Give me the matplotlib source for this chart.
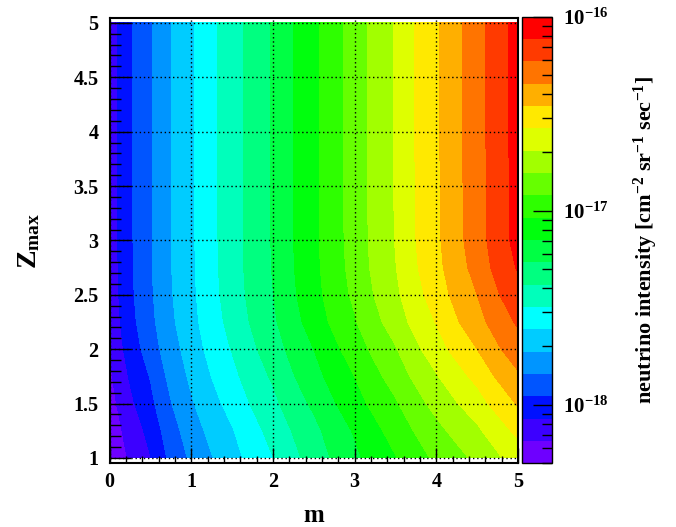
import numpy as np
import matplotlib
matplotlib.use("Agg")
import matplotlib.pyplot as plt
from matplotlib.colors import ListedColormap, LogNorm
from matplotlib.ticker import MultipleLocator, FixedLocator, FixedFormatter, NullFormatter

plt.rcParams['font.family'] = 'Liberation Serif'
plt.rcParams['font.weight'] = 'bold'
plt.rcParams['axes.labelweight'] = 'bold'
plt.rcParams['mathtext.fontset'] = 'custom'
plt.rcParams['mathtext.rm'] = 'Liberation Serif:bold'
plt.rcParams['mathtext.it'] = 'Liberation Serif:bold'
plt.rcParams['mathtext.bf'] = 'Liberation Serif:bold'
plt.rcParams['mathtext.default'] = 'rm'

# source evolution index m and maximum redshift Z_max
m_vals = [0.0, 0.5, 1.0, 1.5, 2.0, 2.5, 3.0, 3.5, 4.0, 4.5, 5.0]
zmax_vals = [1.0, 1.25, 1.5, 1.75, 2.0, 2.25, 2.5, 2.75, 3.0, 4.0, 5.0]

# log10 of neutrino intensity, one row per Z_max
log_intensity = [
    [-18.295, -18.075, -17.822, -17.658, -17.498, -17.336, -17.176, -17.041, -16.900, -16.783, -16.640],
    [-18.270, -18.040, -17.784, -17.620, -17.460, -17.300, -17.140, -16.995, -16.840, -16.713, -16.550],
    [-18.240, -17.990, -17.740, -17.573, -17.412, -17.245, -17.085, -16.935, -16.770, -16.630, -16.450],
    [-18.210, -17.950, -17.705, -17.530, -17.365, -17.195, -17.035, -16.875, -16.700, -16.545, -16.365],
    [-18.190, -17.905, -17.677, -17.490, -17.325, -17.150, -16.985, -16.815, -16.630, -16.460, -16.280],
    [-18.170, -17.875, -17.652, -17.462, -17.288, -17.105, -16.932, -16.755, -16.570, -16.390, -16.215],
    [-18.158, -17.861, -17.640, -17.447, -17.268, -17.082, -16.900, -16.717, -16.526, -16.345, -16.155],
    [-18.152, -17.855, -17.634, -17.440, -17.260, -17.071, -16.885, -16.695, -16.499, -16.308, -16.105],
    [-18.150, -17.853, -17.632, -17.438, -17.258, -17.067, -16.879, -16.686, -16.488, -16.290, -16.080],
    [-18.150, -17.853, -17.632, -17.438, -17.258, -17.066, -16.876, -16.681, -16.480, -16.283, -16.076],
    [-18.150, -17.853, -17.632, -17.438, -17.258, -17.066, -16.876, -16.681, -16.480, -16.283, -16.076],
]

zmin_color, zmax_color = 5e-19, 1e-16
n_levels = 20
palette = ['#6e00ff', '#3c00ff', '#0011ff', '#0055ff', '#0095ff', '#00ccff',
           '#00ffff', '#00ffbb', '#00ff80', '#00ff44', '#00ff0d', '#2eff00',
           '#66ff00', '#a2ff00', '#deff00', '#ffe900', '#ffaf00', '#ff7400',
           '#ff3a00', '#ff0000']

intensity = 10 ** np.array(log_intensity)
levels = np.logspace(np.log10(zmin_color), np.log10(zmax_color), n_levels + 1)
cmap = ListedColormap(palette)
norm = LogNorm(vmin=zmin_color, vmax=zmax_color)

fig = plt.figure(figsize=(6.76, 5.27), dpi=100)
ax = fig.add_axes([0.162, 0.1209, 0.6043, 0.8444])
cs = ax.contourf(m_vals, zmax_vals, intensity, levels=levels, cmap=cmap, norm=norm)

ax.set_xlim(0, 5)
ax.set_ylim(0.951, 5.042)
ax.xaxis.set_major_locator(MultipleLocator(1))
ax.xaxis.set_minor_locator(MultipleLocator(0.2))
ax.yaxis.set_major_locator(FixedLocator([1, 1.5, 2, 2.5, 3, 3.5, 4, 4.5, 5]))
ax.yaxis.set_minor_locator(MultipleLocator(0.1))
ax.set_yticklabels(['1', '1.5', '2', '2.5', '3', '3.5', '4', '4.5', '5'])
ax.tick_params(axis='both', which='both', direction='in', top=False, right=False, width=1)
ax.tick_params(axis='x', which='major', length=11, pad=6, labelsize=14.5)
ax.tick_params(axis='x', which='minor', length=5)
ax.tick_params(axis='y', which='major', length=15, pad=8, labelsize=14.5)
ax.tick_params(axis='y', which='minor', length=8)
ax.grid(True, which='major', color='black', linestyle=(0, (1, 2)), linewidth=1)
ax.set_axisbelow(False)
for s in ax.spines.values():
    s.set_linewidth(1.5)

ax.set_xlabel('m', fontsize=18, fontweight='bold', labelpad=9)
ax.set_ylabel(r'Z$_{max}$', fontsize=20, fontweight='bold', labelpad=22)

cax = fig.add_axes([0.7717, 0.1209, 0.0453, 0.8474])
cb = fig.colorbar(cs, cax=cax)
cb.outline.set_linewidth(1)
cax.yaxis.set_major_locator(FixedLocator([1e-18, 1e-17, 1e-16]))
cax.yaxis.set_major_formatter(FixedFormatter([r'10$^{-18}$', r'10$^{-17}$', r'10$^{-16}$']))
minor = [k * 10.0 ** e for e in (-19, -18, -17) for k in range(2, 10) if zmin_color <= k * 10.0 ** e <= zmax_color]
cax.yaxis.set_minor_locator(FixedLocator(minor))
cax.yaxis.set_minor_formatter(NullFormatter())
cax.tick_params(which='both', direction='in', right=True, left=False, width=1, labelsize=15, pad=8)
cax.tick_params(which='major', length=14)
cax.tick_params(which='minor', length=7)

fig.text(646 / 676, 1 - 240 / 527, r'neutrino intensity [cm$^{-2}$ sr$^{-1}$ sec$^{-1}$]',
         rotation=90, ha='center', va='center', fontsize=16)

fig.savefig('out.png', dpi=100)
